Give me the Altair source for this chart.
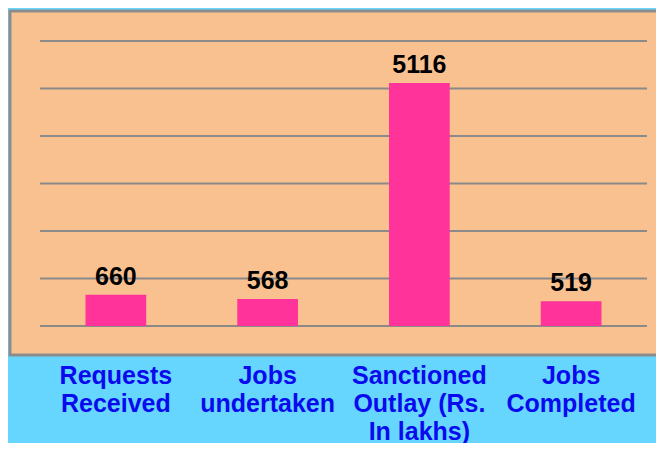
import altair as alt
import pandas as pd

categories = ["Requests|Received", "Jobs|undertaken", "Sanctioned|Outlay (Rs.|In lakhs)", "Jobs|Completed"]
values = [660, 568, 5116, 519]
grid_values = [0, 1000, 2000, 3000, 4000, 5000, 6000]

df = pd.DataFrame({"cat": categories, "val": values})
grid_df = pd.DataFrame({"v": grid_values})
frame_df = pd.DataFrame({"a": [0]})

FONT = "Liberation Sans"

frame = alt.Chart(frame_df).mark_rect(
    fill="#F9C18F", stroke="#8C8C8C", strokeWidth=3
).encode(
    x=alt.value(-30), x2=alt.value(640), y=alt.value(-30), y2=alt.value(314)
)

yscale = alt.Scale(domain=[0, 6000], nice=False)

grid = alt.Chart(grid_df).mark_rule(color="#8A8A8A", strokeWidth=2).encode(
    y=alt.Y("v:Q", scale=yscale, axis=None)
)

xenc = alt.X(
    "cat:N", sort=None,
    scale=alt.Scale(paddingInner=0.6, paddingOuter=0.3),
    axis=alt.Axis(
        title=None, labelAngle=0, ticks=False, domain=False, grid=False,
        labelFont=FONT, labelFontSize=25, labelFontWeight="bold",
        labelColor="#0A0AEE", labelPadding=37, labelLineHeight=28,
        labelExpr="split(datum.label, '|')", labelBaseline="top",
        labelLimit=0,
    ),
)

bars = alt.Chart(df).mark_bar(color="#FF3399").encode(
    x=xenc,
    y=alt.Y("val:Q", scale=yscale, axis=None),
)

text = alt.Chart(df).mark_text(
    font=FONT, fontSize=25, fontWeight="bold", color="#000000",
    baseline="alphabetic", dy=-10,
).encode(
    x=alt.X("cat:N", sort=None),
    y=alt.Y("val:Q", scale=yscale),
    text=alt.Text("val:Q"),
)

chart = alt.layer(frame, grid, bars, text).properties(
    width=607, height=285,
    background="#66D6FF",
    autosize=alt.AutoSizeParams(type="none"),
    padding={"left": 32, "top": 33, "right": 9, "bottom": 117},
).configure_view(stroke=None)

chart.save("out.html", embed_options={"renderer": "svg", "actions": False})
